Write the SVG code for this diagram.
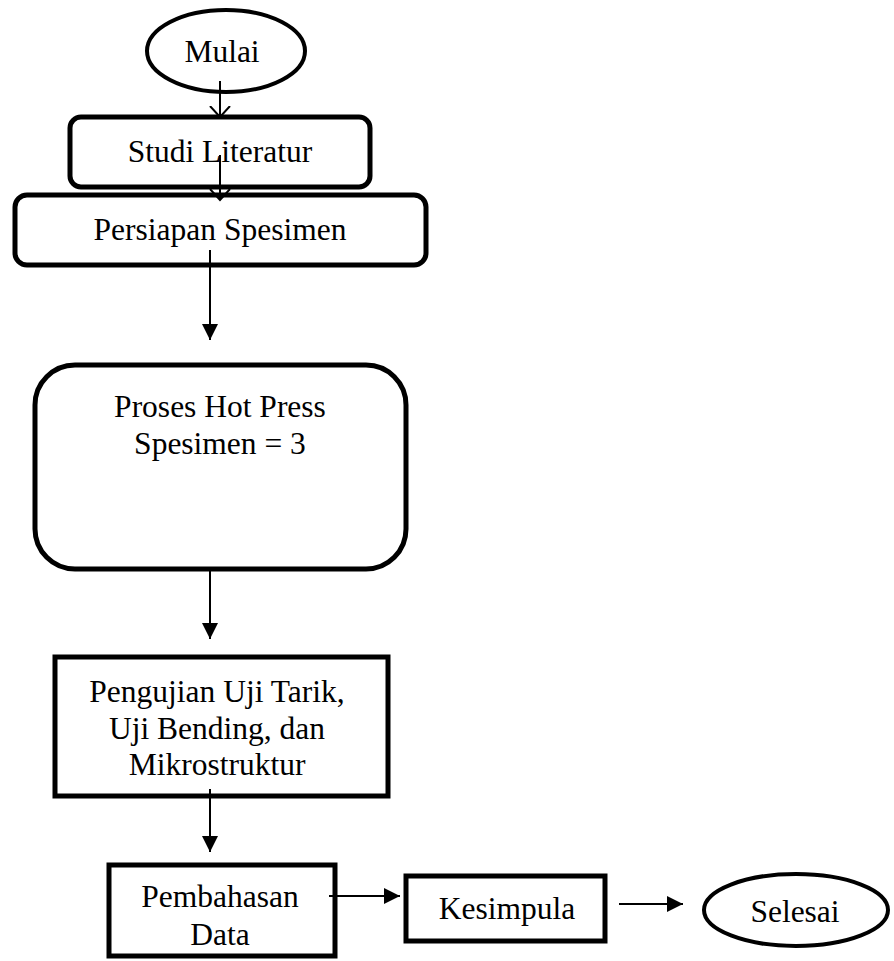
<svg xmlns="http://www.w3.org/2000/svg" width="894" height="961" viewBox="0 0 894 961">
<defs>
<marker id="tri" markerUnits="userSpaceOnUse" markerWidth="18" markerHeight="16" refX="16" refY="8" orient="auto">
<path d="M0,0 L16,8 L0,16 Z" fill="#000"/>
</marker>
<marker id="vee" markerUnits="userSpaceOnUse" markerWidth="14" markerHeight="22" refX="11" refY="11" orient="auto">
<path d="M0,1 L11,11 L0,21" fill="none" stroke="#000" stroke-width="2"/>
</marker>
</defs>
<style>
.n{fill:#fff;stroke:#000;stroke-width:5}
.e{fill:#fff;stroke:#000;stroke-width:4}
.t{font-family:"Liberation Serif","Times New Roman",serif;font-size:31.5px;fill:#000;text-anchor:middle}
.c{stroke:#000;stroke-width:2;fill:none}
</style>
<g id="mulai"><ellipse class="e" cx="226" cy="51" rx="79" ry="41"/><text class="t" x="222" y="62">Mulai</text></g>
<g id="studi"><rect class="n" x="70" y="117" width="300" height="70" rx="11"/><text class="t" x="220" y="162">Studi Literatur</text></g>
<g id="persiapan"><rect class="n" x="15" y="195" width="411" height="70" rx="12"/><text class="t" x="220" y="240">Persiapan Spesimen</text></g>
<g id="proses"><rect class="n" x="35" y="365" width="371" height="204" rx="40"/><text class="t" x="220" y="417">Proses Hot Press</text><text class="t" x="220" y="454">Spesimen = 3</text></g>
<g id="pengujian"><rect class="n" x="55" y="657" width="333" height="139"/><text class="t" x="217" y="702">Pengujian Uji Tarik,</text><text class="t" x="217" y="739">Uji Bending, dan</text><text class="t" x="217" y="775">Mikrostruktur</text></g>
<g id="pembahasan"><rect class="n" x="109" y="865" width="226" height="91"/><text class="t" x="220" y="907">Pembahasan</text><text class="t" x="220" y="945">Data</text></g>
<g id="kesimpula"><rect class="n" x="406" y="876" width="199" height="65"/><text class="t" x="507" y="919">Kesimpula</text></g>
<g id="selesai"><ellipse class="e" cx="796" cy="910" rx="92" ry="36"/><text class="t" x="795" y="922">Selesai</text></g>
<g id="connectors">
<line class="c" x1="220" y1="81" x2="220" y2="117" marker-end="url(#vee)"/>
<line class="c" x1="220" y1="155" x2="220" y2="200" marker-end="url(#vee)"/>
<line class="c" x1="210" y1="250" x2="210" y2="340" marker-end="url(#tri)"/>
<line class="c" x1="210" y1="569" x2="210" y2="639" marker-end="url(#tri)"/>
<line class="c" x1="210" y1="789" x2="210" y2="852" marker-end="url(#tri)"/>
<line class="c" x1="329" y1="896" x2="400" y2="896" marker-end="url(#tri)"/>
<line class="c" x1="619" y1="904" x2="683" y2="904" marker-end="url(#tri)"/>
</g>
</svg>
